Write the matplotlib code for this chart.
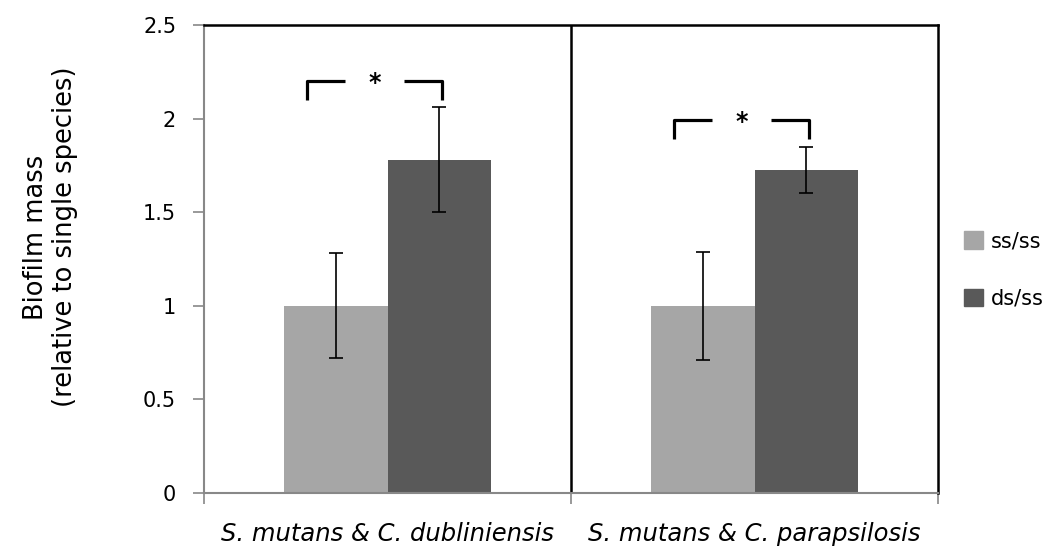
import matplotlib.pyplot as plt
import numpy as np
from matplotlib.patches import Patch

plt.rcParams['font.family'] = ['DejaVu Sans']

groups = ['S. mutans & C. dubliniensis', 'S. mutans & C. parapsilosis']
series = ['ss/ss', 'ds/ss']
ss_vals = [1.0, 1.0]
ss_err = [0.28, 0.29]
ds_vals = [1.78, 1.725]
ds_err = [0.28, 0.125]
colors = ['#A6A6A6', '#595959']

fig = plt.figure(figsize=(10.54, 5.52), dpi=100)
ax = fig.add_axes([204 / 1054, 1 - 493 / 552, 734 / 1054, 468 / 552])

x = np.arange(len(groups))
w = 0.283
ax.bar(x - w / 2, ss_vals, w, color=colors[0], yerr=ss_err, capsize=5,
       error_kw=dict(ecolor='black', elinewidth=1.2, capthick=1.2))
ax.bar(x + w / 2, ds_vals, w, color=colors[1], yerr=ds_err, capsize=5,
       error_kw=dict(ecolor='black', elinewidth=1.2, capthick=1.2))

ax.set_xlim(-0.5, 1.5)
ax.set_ylim(0, 2.5)
ax.set_yticks([0, 0.5, 1, 1.5, 2, 2.5])
ax.set_yticklabels(['0', '0.5', '1', '1.5', '2', '2.5'])
ax.set_xticks(x)
ax.set_xticklabels(groups, style='italic', fontsize=17.5)
ax.set_xticks([-0.5, 0.5, 1.5], minor=True)
ax.tick_params(axis='x', which='major', length=0, pad=21)
ax.tick_params(axis='x', which='minor', length=8, color='#888888', width=1.2)
ax.tick_params(axis='y', length=8, color='#888888', width=1.2, labelsize=15, pad=12)

for s in ['left', 'bottom']:
    ax.spines[s].set_color('#888888')
    ax.spines[s].set_linewidth(1.5)
for s in ['top', 'right']:
    ax.spines[s].set_color('black')
    ax.spines[s].set_linewidth(1.8)
ax.axvline(0.5, color='black', lw=1.8)

ax.set_ylabel('Biofilm mass\n(relative to single species)', fontsize=18.5,
              linespacing=1.15)
ax.yaxis.set_label_coords(-0.172, 0.547)

# significance brackets
for i, (ytop, ylow) in enumerate([(2.20, 2.10), (1.993, 1.89)]):
    left = x[i] - 0.22
    right = x[i] + 0.148
    mid = (left + right) / 2
    gap = 0.08
    kw = dict(color='black', lw=2.3, solid_joinstyle='round', solid_capstyle='butt')
    ax.plot([left, left, mid - gap], [ylow, ytop, ytop], **kw)
    ax.plot([mid + gap, right, right], [ytop, ytop, ylow], **kw)
    ax.text(mid, ytop - 0.01, '*', ha='center', va='center', fontsize=17, fontweight='bold')

handles = [Patch(color=c, label=l) for c, l in zip(colors, series)]
fig.legend(handles=handles, loc='center left', bbox_to_anchor=(945 / 1054, 1 - 270 / 552),
           frameon=False, fontsize=15, handlelength=0.9, handleheight=0.9,
           labelspacing=1.8, handletextpad=0.4)

plt.savefig('out.png', dpi=100)
